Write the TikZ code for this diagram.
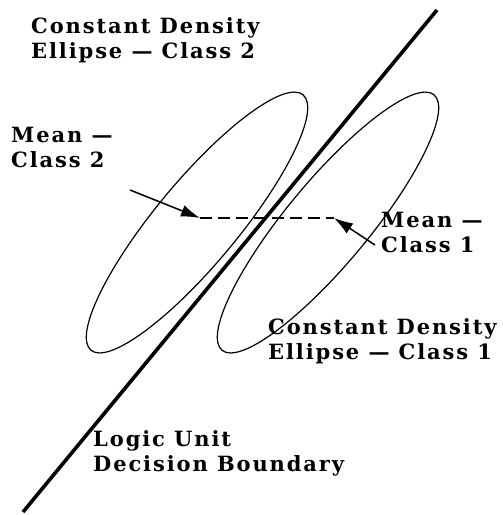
\documentclass[tikz,border=0pt]{standalone}
\usepackage{fontspec}
\setmainfont{DejaVu Serif}[LetterSpace=9]
\usetikzlibrary{arrows.meta}
\begin{document}
\begin{tikzpicture}[x=1pt,y=1pt,
  lbl/.style={font=\fontsize{21}{25}\selectfont\bfseries, align=left, inner sep=0pt, anchor=base west},
  ell/.style={draw, line width=1.2pt},
  bound/.style={line width=3.6pt},
  meanline/.style={line width=2.4pt, dash pattern=on 12pt off 6pt},
  ptr/.style={line width=1.5pt, -{Latex[length=19pt,width=12pt]}}]
\useasboundingbox (0,0) rectangle (503,515);
% ellipse centres
\coordinate (c2) at (197,292.5);
\coordinate (c1) at (328,292.5);
\draw[ell, rotate around={50.3:(c2)}] (c2) ellipse [x radius=166pt, y radius=41.3pt];
\draw[ell, rotate around={50.3:(c1)}] (c1) ellipse [x radius=166pt, y radius=41.3pt];
% decision boundary
\coordinate (b0) at (23,3);
\coordinate (b1) at (437,505);
\draw[bound] (b0) -- (b1);
% means
\coordinate (m2) at (200,297);
\coordinate (m1) at (334,297);
\draw[meanline] (m2) -- (m1);
% labels
\node[lbl] (t2) at (31,456) {Constant Density\\Ellipse --- Class 2};
\node[lbl] (mn2) at (11,347) {Mean ---\\Class 2};
\node[lbl] (mn1) at (381,262) {Mean ---\\Class 1};
\node[lbl] (t1) at (268,155) {Constant Density\\Ellipse --- Class 1};
\node[lbl] (tb) at (93,43) {Logic Unit\\Decision Boundary};
% pointers
\coordinate (p2) at (130,325);
\coordinate (p1) at (375,270);
\draw[ptr] (p2) -- (m2);
\draw[ptr] (p1) -- (m1);
\end{tikzpicture}
\end{document}
